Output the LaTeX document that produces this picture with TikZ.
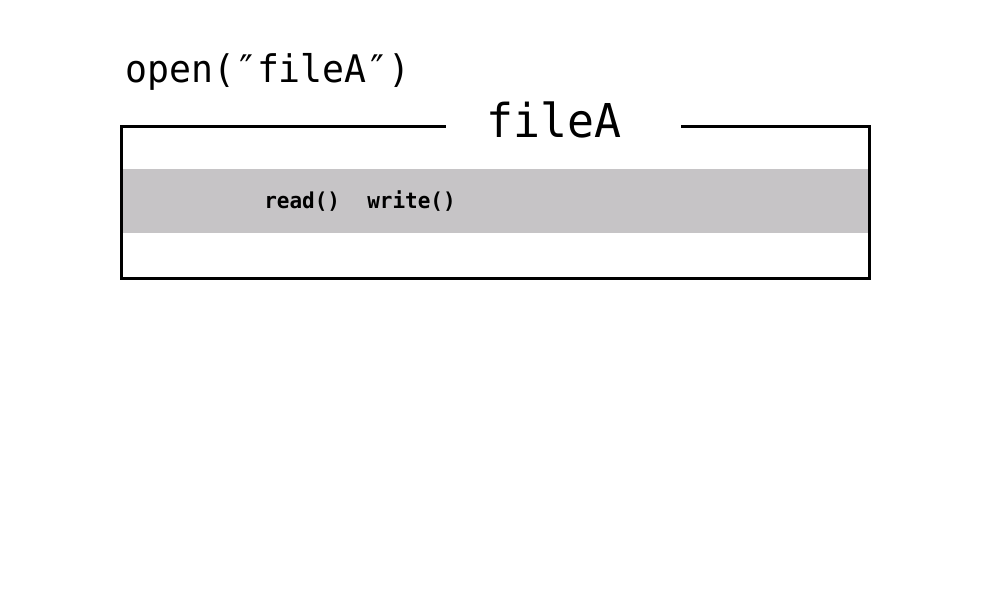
\documentclass[tikz,border=0pt]{standalone}
\usepackage{fontspec}
\usepackage{tikz}
\newfontfamily\gothic[FakeStretch=0.96]{DejaVu Sans Mono}
\definecolor{bandgray}{RGB}{198,196,198}

\begin{document}
\begin{tikzpicture}[x=0.75pt,y=-0.75pt,
  txt/.style={inner sep=0pt,anchor=base west},
  big/.style={txt,font=\gothic\fontsize{28.5}{30}\selectfont},
  head/.style={txt,font=\gothic\fontsize{35}{37}\selectfont},
  small/.style={txt,font=\gothic\bfseries\fontsize{16.4}{18}\selectfont}]
\useasboundingbox (0,0) rectangle (1000,616);
\fill[white] (0,0) rectangle (1000,616);
\node[fill=bandgray,inner sep=0pt,minimum width=558.75pt,minimum height=47.8pt] (band) at (495.5,200.85) {};
\node[draw,line width=2.25pt,inner sep=0pt,minimum width=560.5pt,minimum height=113.5pt] (box) at (495.35,202.35) {};
\node[fill=white,inner sep=0pt,minimum width=176.25pt,minimum height=8pt] (gap) at (563,126.7) {};
\node[big] (call) at (125,83) {open(″fileA″)};
\node[head] (title) at (486,137.5) {fileA};
\node[small] (read) at (264,208.3) {read()};
\node[small] (write) at (367,208.3) {write()};
\end{tikzpicture}
\end{document}
